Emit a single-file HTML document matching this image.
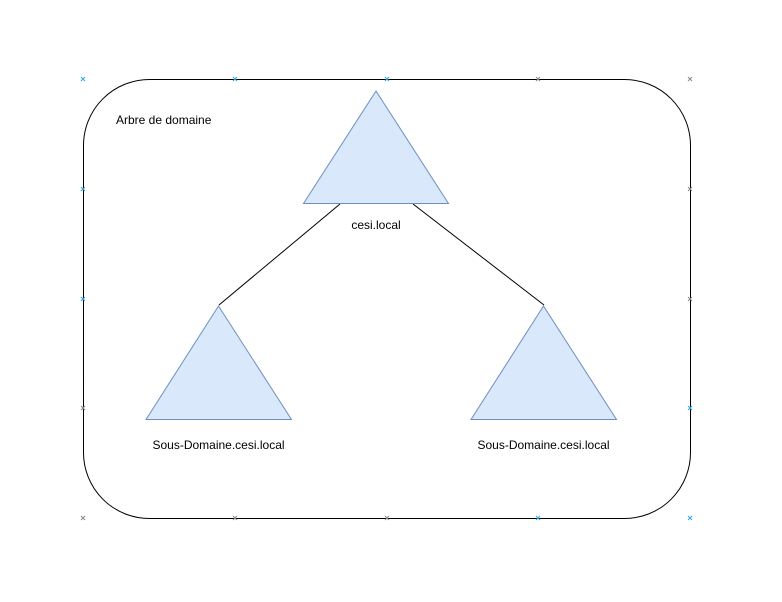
<!DOCTYPE html>
<html><head><meta charset="utf-8"><style>
html,body{margin:0;padding:0;background:#fff;}
svg{display:block;}
text{font-family:"Liberation Sans",sans-serif;font-size:12px;fill:#000;}
</style></head><body>
<svg width="782" height="602" viewBox="0 0 782 602" xmlns="http://www.w3.org/2000/svg">
<rect x="83.5" y="79.5" width="607" height="439" rx="66" ry="66" fill="#fff" stroke="#000" stroke-width="1"/>
<text x="116" y="124">Arbre de domaine</text>
<line x1="340" y1="204" x2="219" y2="305" stroke="#000" stroke-width="1"/>
<line x1="413" y1="204" x2="544" y2="305" stroke="#000" stroke-width="1"/>
<polygon points="376,91 448.5,203.5 303.5,203.5" fill="#dae8fc" stroke="#6c8ebf" stroke-width="1"/>
<polygon points="218.5,306 291.5,419.5 146,419.5" fill="#dae8fc" stroke="#6c8ebf" stroke-width="1"/>
<polygon points="543.5,306 616.5,419.5 471,419.5" fill="#dae8fc" stroke="#6c8ebf" stroke-width="1"/>
<text x="376" y="229" text-anchor="middle">cesi.local</text>
<text x="218.5" y="449" text-anchor="middle">Sous-Domaine.cesi.local</text>
<text x="543.5" y="449" text-anchor="middle">Sous-Domaine.cesi.local</text>
<g stroke-width="1">
<g stroke="#29a8e0">
<path d="M81,77l4,4M85,77l-4,4"/><path d="M233,77l4,4M237,77l-4,4"/><path d="M385,77l4,4M389,77l-4,4"/>
<path d="M81,187l4,4M85,187l-4,4"/><path d="M81,297l4,4M85,297l-4,4"/>
<path d="M688,406l4,4M692,406l-4,4"/><path d="M536,516l4,4M540,516l-4,4"/><path d="M688,516l4,4M692,516l-4,4"/>
</g>
<g stroke="#888">
<path d="M536,77l4,4M540,77l-4,4"/><path d="M688,77l4,4M692,77l-4,4"/>
<path d="M688,187l4,4M692,187l-4,4"/><path d="M688,297l4,4M692,297l-4,4"/>
<path d="M81,406l4,4M85,406l-4,4"/><path d="M81,516l4,4M85,516l-4,4"/>
<path d="M233,516l4,4M237,516l-4,4"/><path d="M385,516l4,4M389,516l-4,4"/>
</g>
</g>
</svg>
</body></html>
